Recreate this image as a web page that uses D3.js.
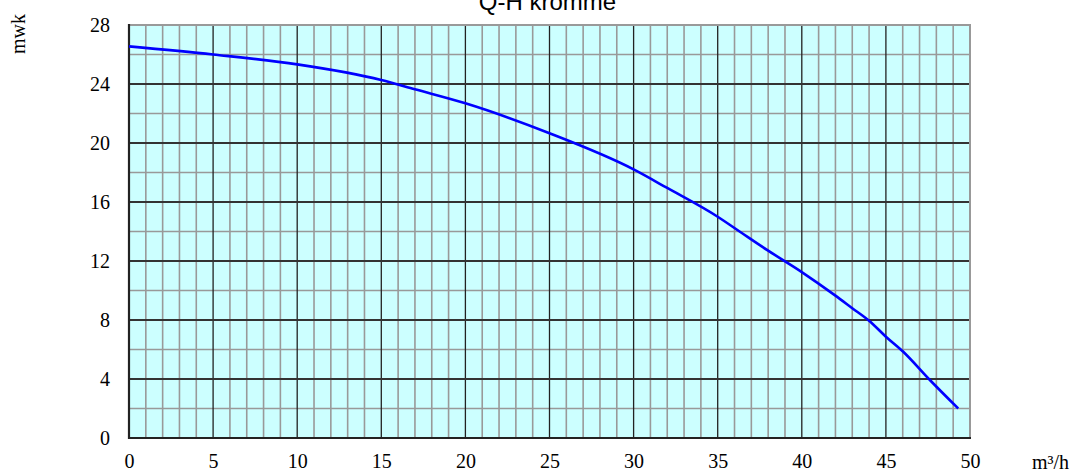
<!DOCTYPE html>
<html>
<head>
<meta charset="utf-8">
<script src="https://cdn.jsdelivr.net/npm/d3@7"></script>
<style>
  html, body { margin: 0; padding: 0; background: #ffffff; }
  svg { display: block; }
</style>
</head>
<body>
<svg id="chart" width="1073" height="472"></svg>
<script>
// ---- data ----
const flowQ = [0, 5, 10, 15, 17, 20, 25, 30, 32, 35, 36.3, 38, 40, 42, 43, 44, 45, 46, 47.6, 49.3];
const headH = [26.55, 26.0, 25.33, 24.27, 23.64, 22.69, 20.66, 18.21, 16.95, 15.0, 14.0, 12.7, 11.25, 9.65, 8.8, 7.95, 6.87, 5.88, 3.95, 2.0];
const xTicks = [0, 5, 10, 15, 20, 25, 30, 35, 40, 45, 50];
const yTicks = [0, 4, 8, 12, 16, 20, 24, 28];
const titleText = "Q-H kromme";
const yLabel = "mwk";
const xLabel = "m³/h";

// ---- layout ----
const svg = d3.select("#chart");
const pL = 129, pR = 970, pT = 25, pB = 438;
const x = d3.scaleLinear().domain([0, 50]).range([pL, pR]);
const y = d3.scaleLinear().domain([0, 28]).range([pB, pT]);

// background
svg.append("rect").attr("x", pL).attr("y", pT)
  .attr("width", pR - pL).attr("height", pB - pT)
  .attr("fill", "#ccffff");

// minor grid
const minorX = d3.range(1, 50).filter(v => v % 5 !== 0);
const minorY = d3.range(2, 28, 2).filter(v => v % 4 !== 0);
svg.append("g").selectAll("line").data(minorX).join("line")
  .attr("x1", d => x(d)).attr("x2", d => x(d))
  .attr("y1", pT).attr("y2", pB)
  .attr("stroke", "#999999").attr("stroke-width", 1.6);
svg.append("g").selectAll("line").data(minorY).join("line")
  .attr("x1", pL).attr("x2", pR)
  .attr("y1", d => y(d)).attr("y2", d => y(d))
  .attr("stroke", "#999999").attr("stroke-width", 1.6);

// major grid
svg.append("g").selectAll("line").data(xTicks.filter(v => v > 0 && v < 50)).join("line")
  .attr("x1", d => x(d)).attr("x2", d => x(d))
  .attr("y1", pT).attr("y2", pB)
  .attr("stroke", "#222222").attr("stroke-width", 1.3);
svg.append("g").selectAll("line").data(yTicks.filter(v => v > 0 && v < 28)).join("line")
  .attr("x1", pL).attr("x2", pR)
  .attr("y1", d => y(d)).attr("y2", d => y(d))
  .attr("stroke", "#333333").attr("stroke-width", 1.8);

// frame: top/right gray, left/bottom black
svg.append("line").attr("x1", pL).attr("x2", pR).attr("y1", pT).attr("y2", pT)
  .attr("stroke", "#999999").attr("stroke-width", 2);
svg.append("line").attr("x1", pR).attr("x2", pR).attr("y1", pT - 1).attr("y2", pB)
  .attr("stroke", "#999999").attr("stroke-width", 2);
svg.append("line").attr("x1", pL).attr("x2", pL).attr("y1", pT - 1).attr("y2", pB + 1)
  .attr("stroke", "#222222").attr("stroke-width", 2.2);
svg.append("line").attr("x1", pL - 1).attr("x2", pR + 1).attr("y1", pB).attr("y2", pB)
  .attr("stroke", "#222222").attr("stroke-width", 2.2);

// axes labels via d3 axes (no domain/ticks lines)
const serif = "'Liberation Serif', 'Times New Roman', serif";
const yAxis = svg.append("g").attr("transform", `translate(${pL},0)`)
  .call(d3.axisLeft(y).tickValues(yTicks).tickSize(0).tickPadding(19).tickFormat(d3.format("d")));
yAxis.select(".domain").remove();
yAxis.selectAll("text").attr("font-family", serif).attr("font-size", 20).attr("fill", "#000");

const xAxis = svg.append("g").attr("transform", `translate(0,${pB})`)
  .call(d3.axisBottom(x).tickValues(xTicks).tickSize(0).tickPadding(16).tickFormat(d3.format("d")));
xAxis.select(".domain").remove();
xAxis.selectAll("text").attr("font-family", serif).attr("font-size", 20).attr("fill", "#000");

// curve
const pts = flowQ.map((q, i) => [q, headH[i]]);
svg.append("path").datum(pts)
  .attr("fill", "none").attr("stroke", "#0000ff").attr("stroke-width", 2.6)
  .attr("d", d3.line().x(d => x(d[0])).y(d => y(d[1])).curve(d3.curveMonotoneX));

// title
svg.append("text").attr("x", 547.5).attr("y", 10).attr("text-anchor", "middle")
  .attr("font-family", "'Liberation Sans', Arial, sans-serif").attr("font-size", 24)
  .attr("fill", "#000").text(titleText);

// y label
svg.append("text").attr("transform", "translate(25,34) rotate(-90)")
  .attr("text-anchor", "middle").attr("font-family", serif).attr("font-size", 20)
  .attr("fill", "#000").text(yLabel);

// x label
svg.append("text").attr("x", 1032).attr("y", 469)
  .attr("font-family", serif).attr("font-size", 20)
  .attr("fill", "#000").text(xLabel);
</script>
</body>
</html>
